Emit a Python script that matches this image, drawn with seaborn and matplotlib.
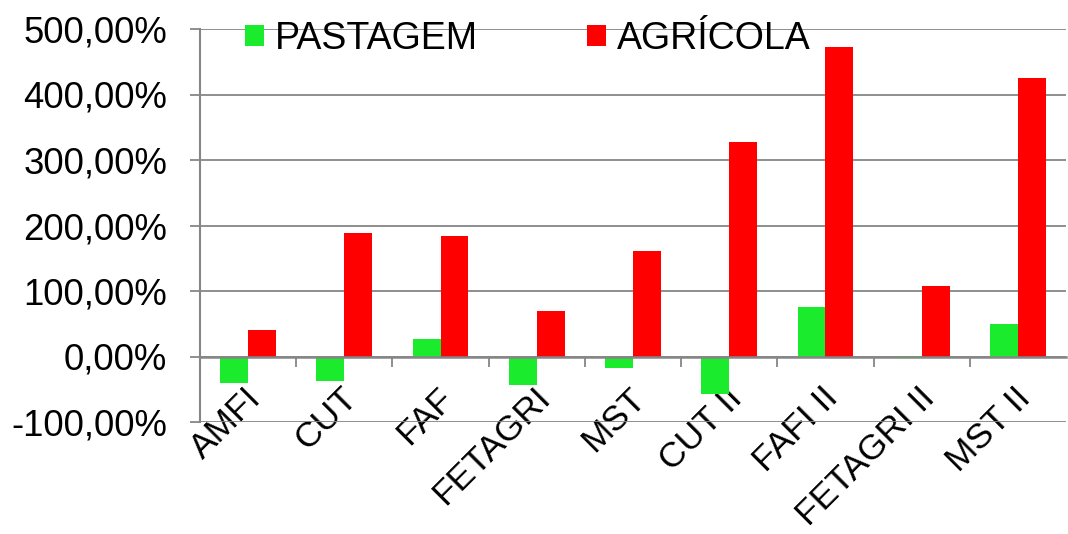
import matplotlib
matplotlib.use("Agg")
import matplotlib.pyplot as plt
from matplotlib.ticker import FuncFormatter, MultipleLocator, FixedLocator
from matplotlib.transforms import ScaledTranslation
import seaborn as sns
import pandas as pd

categories = ["AMFI", "CUT", "FAF", "FETAGRI", "MST", "CUT II", "FAFI II", "FETAGRI II", "MST II"]
pastagem = [-0.41, -0.37, 0.26, -0.43, -0.18, -0.58, 0.76, 0.01, 0.49]
agricola = [0.40, 1.88, 1.84, 0.70, 1.61, 3.27, 4.72, 1.08, 4.25]
series_names = ["PASTAGEM", "AGRÍCOLA"]
colors = ["#1AEB2C", "#FF0000"]

df = pd.DataFrame({
    "cat": categories * 2,
    "serie": [series_names[0]] * len(categories) + [series_names[1]] * len(categories),
    "valor": pastagem + agricola,
})

sns.set_theme(style="white")
plt.rcParams["font.family"] = ["Liberation Sans", "DejaVu Sans"]
plt.rcParams["text.color"] = "black"

fig = plt.figure(figsize=(10.68, 5.34), dpi=100)
ax = fig.add_axes([200 / 1068, 1 - 422 / 534, 866 / 1068, (422 - 29) / 534])

sns.barplot(data=df, x="cat", y="valor", hue="serie", order=categories,
            hue_order=series_names, palette=colors, width=0.58, gap=0,
            saturation=1, ax=ax, linewidth=0, zorder=3)

gray = "#868686"
ax.set_ylim(-1, 5)
ax.set_xlim(-0.5, len(categories) - 0.5)
ax.yaxis.set_major_locator(MultipleLocator(1))
ax.yaxis.set_major_formatter(FuncFormatter(lambda v, p: f"{v*100:.2f}%".replace(".", ",")))
ax.grid(axis="y", color=gray, linewidth=1.3, zorder=0)
ax.set_axisbelow(True)

for s in ["top", "right"]:
    ax.spines[s].set_visible(False)
ax.spines["bottom"].set_position(("data", 0))
ax.spines["bottom"].set_color(gray)
ax.spines["bottom"].set_linewidth(1.8)
ax.spines["bottom"].set_zorder(4)
ax.spines["left"].set_color(gray)
ax.spines["left"].set_linewidth(1.5)

ax.set_xlabel("")
ax.set_ylabel("")

ax.tick_params(axis="y", which="major", left=True, length=7.5, width=1.3, color=gray,
               labelsize=26.3, pad=16, labelcolor="black")
ax.xaxis.set_minor_locator(FixedLocator([i + 0.5 for i in range(len(categories) - 1)]))
ax.tick_params(axis="x", which="minor", bottom=True, length=7.5, width=1.3, color=gray)
ax.tick_params(axis="x", which="major", bottom=True, length=0, labelsize=25.5, pad=18,
               labelcolor="black")
shift = ScaledTranslation(-4 / 100, 0, fig.dpi_scale_trans)
for lab in ax.get_xticklabels():
    lab.set_rotation(45)
    lab.set_ha("right")
    lab.set_va("top")
    lab.set_rotation_mode("anchor")
    lab.set_transform(lab.get_transform() + shift)

leg = ax.legend(loc="upper left", bbox_to_anchor=(245 / 1068, 1 - 21 / 534),
                bbox_transform=fig.transFigure, ncol=2, frameon=False,
                fontsize=27, handlelength=0.5, handleheight=0.5,
                handletextpad=0.3, columnspacing=2.9, borderpad=0, borderaxespad=0)
for t in leg.get_texts():
    t.set_color("black")

fig.savefig("out.png", dpi=100)
